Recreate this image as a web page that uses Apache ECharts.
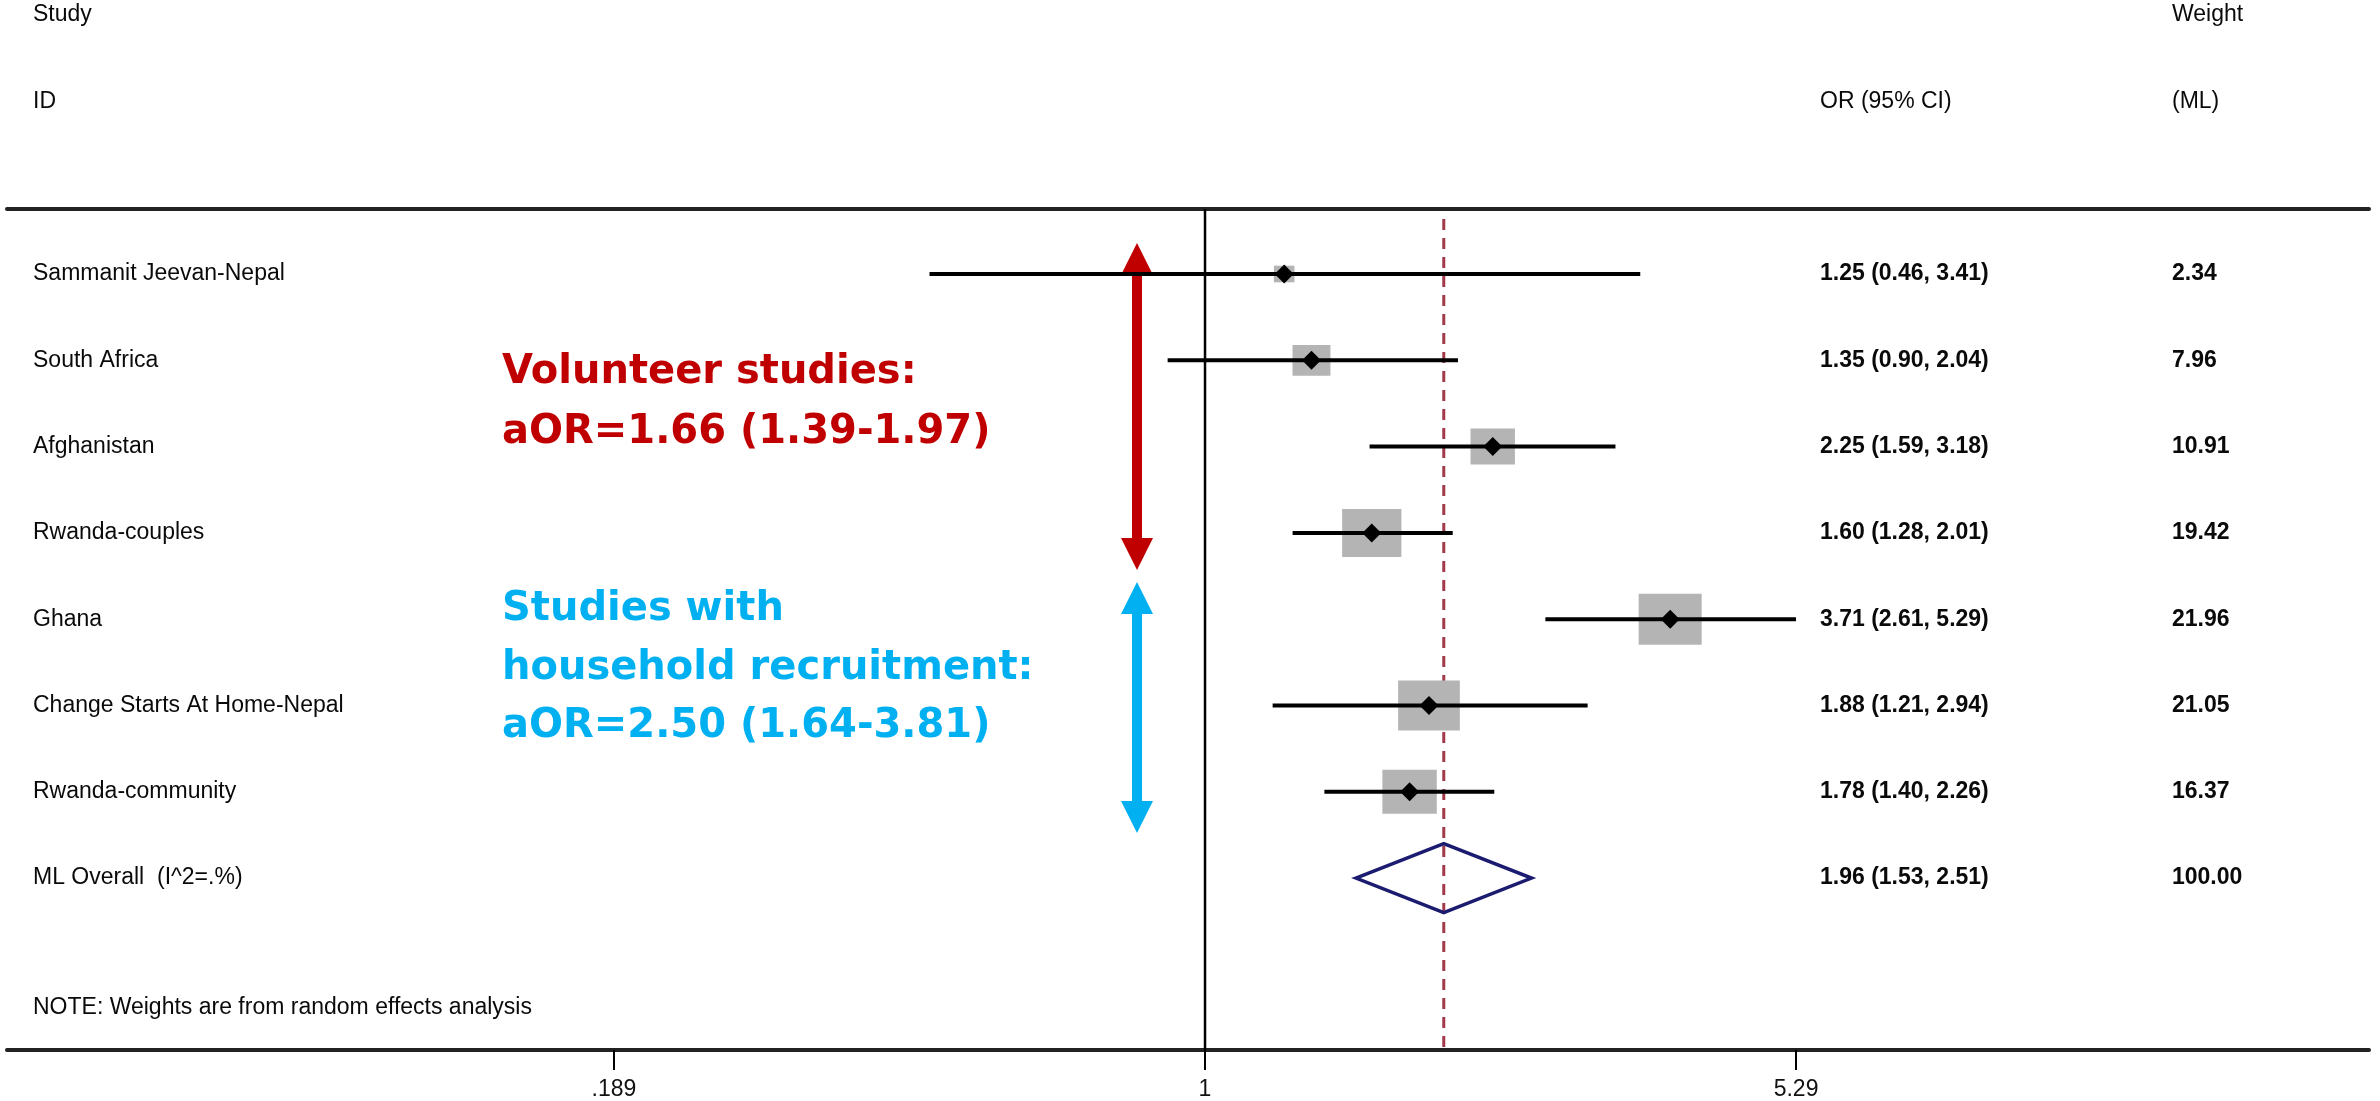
<!DOCTYPE html>
<html>
<head>
<meta charset="utf-8">
<title>Forest plot</title>
<script src="https://cdn.jsdelivr.net/npm/echarts@6/dist/echarts.min.js"></script>
<style>
  html, body { margin: 0; padding: 0; background: #ffffff; }
  #chart { width: 2380px; height: 1101px; }
</style>
</head>
<body>
<div id="chart"></div>
<script>
// ---- Study-level estimates (odds ratios with 95% CI) and ML weights ----
const studies = [
  'Sammanit Jeevan-Nepal',
  'South Africa',
  'Afghanistan',
  'Rwanda-couples',
  'Ghana',
  'Change Starts At Home-Nepal',
  'Rwanda-community'
];
const oddsRatio = [1.25, 1.35, 2.25, 1.60, 3.71, 1.88, 1.78];
const ciLower   = [0.46, 0.90, 1.59, 1.28, 2.61, 1.21, 1.40];
const ciUpper   = [3.41, 2.04, 3.18, 2.01, 5.29, 2.94, 2.26];
const weights   = [2.34, 7.96, 10.91, 19.42, 21.96, 21.05, 16.37];

// ---- Pooled estimate ----
const pooledLabel  = 'ML Overall  (I^2=.%)';
const pooledOR     = [1.96];
const pooledLower  = [1.53];
const pooledUpper  = [2.51];
const pooledWeight = [100.00];

// ---- Axis ticks ----
const tickValues = [0.189, 1, 5.29];
const tickLabels = ['.189', '1', '5.29'];

// ---- Column headers and footnote ----
const headerStudy  = ['Study', 'ID'];
const headerOR     = ['', 'OR (95% CI)'];
const headerWeight = ['Weight', '(ML)'];
const footnote     = 'NOTE: Weights are from random effects analysis';

// ---- Subgroup annotations ----
const volunteerText = ['Volunteer studies:', 'aOR=1.66 (1.39-1.97)'];
const householdText = ['Studies with', 'household recruitment:', 'aOR=2.50 (1.64-3.81)'];

// ---------------------------------------------------------------
const ln = Math.log;
const fmt = v => v.toFixed(2);

// layout (pixels / axis extents)
const X_MIN = -3.3766, X_MAX = 3.2807;      // ln(OR) range across the plot width
const Y_MIN = -0.7532, Y_MAX = 8.992;       // row range between the two rules
const COL_NAME = 33, COL_OR = 1820, COL_W = 2172;
const BOX_REF_W = 21.96, BOX_W = 63, BOX_H = 51;
const TEXT_FONT = '23px "Liberation Sans", Arial, sans-serif';
const NUM_FONT = 'bold 23px "Liberation Sans", Arial, sans-serif';

const tickLn = tickValues.map(ln);

const studyData = studies.map((s, i) => [ln(oddsRatio[i]), ln(ciLower[i]), ln(ciUpper[i]), i, weights[i]]);
const pooledRow = studies.length;
const pooledData = [[ln(pooledOR[0]), ln(pooledLower[0]), ln(pooledUpper[0]), pooledRow, pooledWeight[0]]];

// text table rows
const tableRows = [];
headerStudy.forEach((h, k) => tableRows.push({ row: -3 + k, name: h, or: headerOR[k], w: headerWeight[k], numBold: false }));
studies.forEach((s, i) => tableRows.push({
  row: i, name: s,
  or: `${fmt(oddsRatio[i])} (${fmt(ciLower[i])}, ${fmt(ciUpper[i])})`,
  w: fmt(weights[i]), numBold: true
}));
tableRows.push({
  row: pooledRow, name: pooledLabel,
  or: `${fmt(pooledOR[0])} (${fmt(pooledLower[0])}, ${fmt(pooledUpper[0])})`,
  w: fmt(pooledWeight[0]), numBold: true
});
tableRows.push({ row: 8.5, name: footnote, or: '', w: '', numBold: false });

function textEl(x, y, text, font) {
  return { type: 'text', x: x, y: y, style: { text: text, font: font, fill: '#0a0a0a', align: 'left', verticalAlign: 'middle' } };
}

const chart = echarts.init(document.getElementById('chart'), null, { renderer: 'canvas' });

const option = {
  backgroundColor: '#ffffff',
  animation: false,
  grid: { left: 7, right: 11, top: 209, bottom: 51, containLabel: false, outerBoundsMode: 'none' },
  xAxis: [
    {
      type: 'value', min: X_MIN, max: X_MAX, position: 'bottom',
      splitLine: { show: false },
      axisLine: { show: true, onZero: false, lineStyle: { color: '#222', width: 4 } },
      axisTick: { show: true, customValues: tickLn, length: 20, lineStyle: { color: '#000', width: 2 } },
      axisLabel: {
        customValues: tickLn, margin: 28, color: '#111',
        fontSize: 23, fontFamily: '"Liberation Sans", Arial, sans-serif',
        formatter: v => {
          const k = tickLn.findIndex(t => Math.abs(t - v) < 1e-6);
          return k >= 0 ? tickLabels[k] : '';
        }
      }
    },
    {
      type: 'value', min: X_MIN, max: X_MAX, position: 'top',
      splitLine: { show: false },
      axisLine: { show: true, onZero: false, lineStyle: { color: '#222', width: 4 } },
      axisTick: { show: false }, axisLabel: { show: false }
    }
  ],
  yAxis: { type: 'value', inverse: true, min: Y_MIN, max: Y_MAX, show: false },
  series: [
    // reference lines: no effect (OR = 1) and pooled estimate
    {
      type: 'custom', clip: false, silent: true, z: 1,
      data: [[0, ln(pooledOR[0])]],
      encode: { x: [0, 1] },
      renderItem: (params, api) => {
        const a = api.coord([api.value(0), Y_MIN]);
        const b = api.coord([api.value(0), Y_MAX]);
        const c = api.coord([api.value(1), Y_MIN]);
        const d = api.coord([api.value(1), Y_MAX]);
        return {
          type: 'group', children: [
            { type: 'line', shape: { x1: a[0], y1: a[1], x2: b[0], y2: b[1] }, style: { stroke: '#000', lineWidth: 2.5 } },
            { type: 'line', shape: { x1: c[0], y1: c[1] + 10, x2: d[0], y2: d[1] },
              style: { stroke: '#a33a4a', lineWidth: 3, lineDash: [11, 8] } }
          ]
        };
      }
    },
    // study markers: weight boxes, CI whiskers, point estimates
    {
      type: 'custom', clip: false, silent: true, z: 3,
      data: studyData,
      encode: { x: [0, 1, 2], y: 3 },
      renderItem: (params, api) => {
        const c = api.coord([api.value(0), api.value(3)]);
        const pl = api.coord([api.value(1), api.value(3)]);
        const ph = api.coord([api.value(2), api.value(3)]);
        const s = Math.sqrt(api.value(4) / BOX_REF_W);
        const bw = BOX_W * s, bh = BOX_H * s;
        const r = 9.5;
        return {
          type: 'group', children: [
            { type: 'rect', shape: { x: c[0] - bw / 2, y: c[1] - bh / 2, width: bw, height: bh }, style: { fill: '#b4b4b4' } },
            { type: 'line', shape: { x1: pl[0], y1: pl[1], x2: ph[0], y2: ph[1] }, style: { stroke: '#000', lineWidth: 4 } },
            { type: 'polygon', shape: { points: [[c[0], c[1] - r], [c[0] + r, c[1]], [c[0], c[1] + r], [c[0] - r, c[1]]] }, style: { fill: '#000' } }
          ]
        };
      }
    },
    // pooled diamond
    {
      type: 'custom', clip: false, silent: true, z: 3,
      data: pooledData,
      encode: { x: [0, 1, 2], y: 3 },
      renderItem: (params, api) => {
        const row = api.value(3);
        const half = 0.4;
        const pts = [
          api.coord([api.value(1), row]),
          api.coord([api.value(0), row - half]),
          api.coord([api.value(2), row]),
          api.coord([api.value(0), row + half])
        ];
        return { type: 'polygon', shape: { points: pts }, style: { fill: 'none', stroke: '#1b1b70', lineWidth: 3.5, lineJoin: 'miter' } };
      }
    },
    // text table
    {
      type: 'custom', clip: false, silent: true, z: 4,
      data: tableRows.map(t => [0, t.row]),
      encode: { x: 0, y: 1 },
      renderItem: (params, api) => {
        const t = tableRows[params.dataIndex];
        const y = api.coord([0, t.row])[1];
        const nf = t.numBold ? NUM_FONT : TEXT_FONT;
        const children = [textEl(COL_NAME, y, t.name, TEXT_FONT)];
        if (t.or) children.push(textEl(COL_OR, y, t.or, nf));
        if (t.w) children.push(textEl(COL_W, y, t.w, nf));
        return { type: 'group', children: children };
      }
    }
  ],
  graphic: {
    elements: [
      // subgroup arrows
      {
        type: 'group', silent: true, children: [
          { type: 'rect', shape: { x: 1132, y: 272, width: 10, height: 269 }, style: { fill: '#c00000' } },
          { type: 'polygon', shape: { points: [[1137, 243], [1153, 275], [1121, 275]] }, style: { fill: '#c00000' } },
          { type: 'polygon', shape: { points: [[1137, 570], [1153, 538], [1121, 538]] }, style: { fill: '#c00000' } },
          { type: 'rect', shape: { x: 1132, y: 611, width: 10, height: 193 }, style: { fill: '#00b0f0' } },
          { type: 'polygon', shape: { points: [[1137, 582], [1153, 614], [1121, 614]] }, style: { fill: '#00b0f0' } },
          { type: 'polygon', shape: { points: [[1137, 833], [1153, 801], [1121, 801]] }, style: { fill: '#00b0f0' } }
        ]
      },
      ...volunteerText.map((s, k) => ({
        type: 'text', x: 502, y: 373 + k * 60, silent: true,
        style: { text: s, font: 'bold 40px "DejaVu Sans", sans-serif', fill: '#c00000', verticalAlign: 'middle' }
      })),
      ...householdText.map((s, k) => ({
        type: 'text', x: 502, y: 610 + k * 58.5, silent: true,
        style: { text: s, font: 'bold 40px "DejaVu Sans", sans-serif', fill: '#00b0f0', verticalAlign: 'middle' }
      }))
    ]
  }
};

chart.setOption(option);
</script>
</body>
</html>
